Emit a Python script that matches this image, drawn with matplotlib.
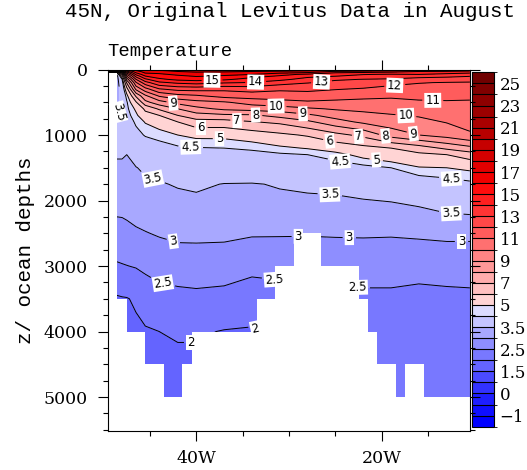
import numpy as np
import matplotlib
matplotlib.use("Agg")
import matplotlib.pyplot as plt
from matplotlib.colors import ListedColormap, BoundaryNorm

# Section along 45N (longitude in degrees east, depth in metres)
lons = [-49.5, -48.5, -48.0, -47.5, -46.5, -45.5, -44.0, -42.0, -40.0, -37.0,
        -34.0, -31.0, -28.0, -25.0, -22.0, -19.0, -16.0, -13.0, -10.5]
depths = [0, 10, 20, 30, 50, 75, 100, 150, 200, 300, 400, 500, 600, 700, 800,
          1000, 1200, 1300, 1500, 1750, 2000, 2500, 3000, 3500, 4000, 4500, 5000]

# temperature profile (deg C) at each longitude, surface to 5000 m
temp_by_lon = [
    [15.0, 13.0, 11.0, 8.5, 5.0, 3.6, 3.4, 3.3, 3.3, 3.3, 3.35, 3.35, 3.4, 3.45, 3.45, 3.6, 3.6, 3.55, 3.4, 3.3, 3.15, 2.85, 2.45, 1.95, 1.9, 1.85, 1.85],
    [15.2, 13.5, 11.5, 9.0, 5.5, 3.8, 3.4, 3.3, 3.3, 3.3, 3.35, 3.35, 3.4, 3.45, 3.45, 3.6, 3.6, 3.55, 3.4, 3.3, 3.15, 2.85, 2.45, 1.95, 1.9, 1.85, 1.85],
    [15.5, 14.2, 12.8, 11.0, 8.5, 6.8, 5.6, 4.5, 4.1, 3.8, 3.7, 3.7, 3.75, 3.8, 3.8, 3.8, 3.65, 3.55, 3.4, 3.28, 3.13, 2.88, 2.47, 1.97, 1.88, 1.82, 1.82],
    [15.8, 15.3, 14.5, 13.7, 12.3, 11.0, 10.0, 8.4, 7.1, 5.6, 4.75, 4.42, 4.35, 4.25, 4.15, 4.0, 3.65, 3.5, 3.4, 3.25, 3.12, 2.92, 2.49, 1.98, 1.85, 1.8, 1.8],
    [16.5, 16.2, 15.9, 15.6, 15.0, 14.2, 13.4, 12.0, 10.9, 9.2, 7.2, 5.9, 5.15, 4.85, 4.6, 4.3, 3.9, 3.75, 3.48, 3.35, 3.2, 2.95, 2.53, 2.05, 1.93, 1.85, 1.82],
    [17.0, 16.8, 16.6, 16.4, 16.1, 15.6, 15.0, 13.8, 12.6, 10.6, 8.85, 7.7, 6.2, 5.65, 5.05, 4.55, 4.1, 3.9, 3.6, 3.4, 3.3, 2.98, 2.6, 2.2, 1.96, 1.88, 1.85],
    [17.3, 17.1, 16.8, 16.5, 16.2, 15.8, 15.5, 14.8, 13.8, 11.9, 10.15, 8.6, 7.15, 6.0, 5.4, 4.7, 4.25, 4.1, 3.7, 3.45, 3.32, 3.04, 2.7, 2.3, 2.0, 1.9, 1.85],
    [17.5, 17.4, 17.2, 17.0, 16.6, 16.2, 15.8, 15.25, 14.2, 12.3, 10.7, 9.35, 8.0, 7.0, 6.0, 5.0, 4.4, 4.2, 3.9, 3.55, 3.35, 3.1, 2.75, 2.35, 2.05, 1.9, 1.85],
    [17.7, 17.6, 17.4, 17.2, 16.8, 16.4, 16.1, 15.4, 14.4, 12.35, 10.9, 9.7, 8.7, 7.6, 6.6, 5.2, 4.46, 4.3, 3.95, 3.6, 3.4, 3.12, 2.72, 2.4, 2.05, 1.9, 1.88],
    [17.8, 17.7, 17.5, 17.2, 16.6, 16.2, 15.9, 15.2, 14.1, 12.2, 11.4, 9.9, 9.2, 7.8, 6.6, 5.2, 4.5, 4.3, 4.0, 3.48, 3.38, 3.1, 2.73, 2.35, 1.98, 1.9, 1.88],
    [17.8, 17.7, 17.4, 17.0, 16.5, 16.0, 15.4, 14.6, 13.95, 12.4, 11.5, 10.4, 9.4, 7.85, 6.95, 5.5, 4.55, 4.4, 4.1, 3.46, 3.38, 3.05, 2.6, 2.3, 1.95, 1.9, 1.9],
    [17.6, 17.5, 17.2, 16.8, 16.2, 15.3, 14.9, 14.3, 13.4, 12.2, 11.4, 10.75, 9.5, 8.35, 7.2, 5.8, 4.85, 4.4, 4.0, 3.55, 3.38, 3.04, 2.65, 2.3, 2.1, 2.05, 2.0],
    [17.4, 17.3, 17.0, 16.5, 15.9, 14.8, 14.3, 13.6, 13.05, 12.3, 11.45, 10.9, 9.85, 8.8, 7.8, 6.1, 5.05, 4.5, 4.2, 3.62, 3.4, 3.03, 2.7, 2.4, 2.2, 2.15, 2.1],
    [17.2, 17.0, 16.5, 15.9, 15.0, 14.3, 14.05, 13.1, 12.8, 12.05, 11.4, 10.8, 10.1, 9.4, 8.6, 6.7, 5.4, 4.75, 4.2, 3.65, 3.42, 3.05, 2.65, 2.4, 2.25, 2.2, 2.15],
    [17.0, 16.8, 16.2, 15.7, 14.8, 14.05, 13.6, 12.98, 12.6, 11.9, 11.25, 10.75, 10.25, 9.7, 9.2, 7.25, 5.7, 5.25, 4.3, 3.72, 3.48, 3.05, 2.7, 2.4, 2.25, 2.2, 2.15],
    [16.9, 16.6, 16.0, 15.4, 14.6, 13.9, 13.5, 12.9, 12.35, 11.6, 11.15, 10.75, 10.35, 9.93, 9.55, 8.4, 6.0, 5.6, 4.5, 3.85, 3.52, 3.04, 2.7, 2.4, 2.28, 2.22, 2.18],
    [16.8, 16.4, 15.6, 15.0, 14.5, 14.0, 13.3, 12.7, 12.05, 11.6, 11.2, 10.9, 10.5, 10.08, 9.75, 9.0, 6.5, 5.8, 4.95, 4.0, 3.6, 3.07, 2.68, 2.35, 2.3, 2.25, 2.2],
    [16.7, 16.2, 15.4, 14.9, 14.35, 13.7, 13.2, 12.6, 11.95, 11.55, 11.15, 10.95, 10.6, 10.3, 10.05, 9.4, 7.2, 6.0, 5.0, 4.2, 3.75, 3.1, 2.7, 2.38, 2.3, 2.25, 2.2],
    [16.6, 16.0, 15.1, 14.7, 14.1, 13.55, 13.05, 12.5, 11.9, 11.5, 11.1, 10.95, 10.7, 10.45, 10.25, 9.9, 7.7, 6.5, 5.15, 4.35, 3.8, 3.1, 2.7, 2.4, 2.3, 2.25, 2.2],
]

# deepest valid depth of each 1-degree cell, from 49.5W eastwards
floor_west = np.arange(-49.5, -11.0, 1.0)
floor_depth = [50, 3500, 4000, 4000, 4500, 4500, 5000, 5000, 4500, 4000,
               4000, 4000, 4000, 4000, 4000, 4000, 3500, 3500, 3000, 3000,
               2500, 2500, 2500, 3000, 3000, 3000, 3000, 3500, 4000, 4500,
               4500, 5000, 4500, 4500, 5000, 5000, 5000, 5000, 5000]

# contour label positions (lon, depth) for each labelled level
label_pos = {
    15: [(-38.3, 180)],
    14: [(-33.6, 195)],
    13: [(-26.5, 165)],
    12: [(-18.6, 230)],
    11: [(-14.5, 450)],
    10: [(-31.4, 555), (-17.4, 692)],
    9: [(-42.5, 540), (-28.5, 677), (-16.6, 1015)],
    8: [(-33.6, 682), (-19.6, 1035)],
    7: [(-35.6, 780), (-22.5, 1050)],
    6: [(-39.5, 862), (-25.6, 1088)],
    5: [(-37.5, 1035), (-20.6, 1385)],
    4.5: [(-40.6, 1190), (-24.5, 1410), (-12.5, 1703)],
    3.5: [(-48.2, 660), (-44.7, 1692), (-25.6, 1897), (-12.5, 2154)],
    3: [(-42.5, 2667), (-29.0, 2590), (-23.5, 2574), (-11.4, 2590)],
    2.5: [(-43.6, 3256), (-31.6, 3220), (-22.6, 3307)],
    2: [(-40.6, 4180), (-33.6, 3872)],
}

fill_levels = [-2, -1, -0.5, 0, 1, 1.5, 2, 2.5, 3, 3.5, 4.5] + list(range(5, 27))
line_levels = [2, 2.5, 3, 3.5, 4.5] + list(range(5, 19))
cb_ticks = [-1, 0, 1.5, 2.5, 3.5, 5, 7, 9, 11, 13, 15, 17, 19, 21, 23, 25]

# blue -> white -> red -> dark red palette, one colour per band
blue = [0, 15, 30, 50, 75, 100, 120, 142, 168, 196, 220]
pink = [212, 192, 172, 152, 132, 112, 92, 72, 52, 32]
dark = [240, 226, 212, 198, 184, 170, 156, 142, 128, 112]
colors = ([(v / 255, v / 255, 1.0) for v in blue]
          + [(1.0, v / 255, v / 255) for v in pink]
          + [(1.0, 0.05, 0.05)]
          + [(v / 255, 0.0, 0.0) for v in dark])
cmap = ListedColormap(colors)
norm = BoundaryNorm(fill_levels, cmap.N)

plt.rcParams['font.family'] = 'DejaVu Sans'
mono = 'Liberation Mono'
serif = 'DejaVu Serif'

temp = np.array(temp_by_lon).T

fig = plt.figure(figsize=(5.27, 4.70), dpi=100)
ax = fig.add_axes([0.2053, 0.0821, 0.6863, 0.7700])
cax = fig.add_axes([0.8956, 0.0921, 0.0417, 0.754])
ax.set_zorder(2)
cax.set_zorder(1)

cf = ax.contourf(lons, depths, temp, levels=fill_levels, cmap=cmap, norm=norm)

# mask the sea floor
ax.bar(floor_west, 6000, bottom=floor_depth, width=1.0, align='edge',
       color='white', linewidth=0, zorder=2.2)

fmt = lambda v: f"{v:g}"
for lev in line_levels:
    cs = ax.contour(lons, depths, temp, levels=[lev], colors='k', linewidths=0.7)
    if lev in label_pos:
        texts = cs.clabel(manual=label_pos[lev], inline=True, fmt=fmt,
                          fontsize=8.5, inline_spacing=3)
        for t in texts:
            t.set_bbox(dict(boxstyle='square,pad=0.08', fc='white', ec='none'))
            t.set_zorder(4)

ax.set_xlim(-49.5, -10.5)
ax.set_ylim(5525, 0)
ax.set_xticks([-40, -20])
ax.set_xticklabels(['40W', '20W'])
ax.set_xticks([-45, -35, -30, -25, -15], minor=True)
ax.set_yticks(range(0, 5001, 1000))
ax.set_yticks(np.arange(250, 5501, 250), minor=True)
ax.tick_params(which='both', direction='out', top=True, right=True,
               width=0.8, labelsize=12.5, labelfontfamily=serif)
ax.tick_params(which='major', length=7.2)
ax.tick_params(which='minor', length=3.6)
ax.tick_params(axis='y', pad=7.5)
ax.tick_params(axis='x', pad=6)
for s in ax.spines.values():
    s.set_linewidth(0.8)

cb = fig.colorbar(cf, cax=cax, ticks=cb_ticks, drawedges=True)
cb.set_ticklabels([fmt(v).replace('-', '\u2212') for v in cb_ticks])
cb.outline.set_linewidth(0.8)
cb.dividers.set_linewidth(0.8)
cax.tick_params(length=0, pad=4, labelsize=12, labelfontfamily=serif)

fig.text(0.5503, 0.9643, '45N, Original Levitus Data in August',
         ha='center', va='baseline', fontsize=15, family=mono)
fig.text(0.2042, 0.8819, 'Temperature', ha='left', va='baseline',
         fontsize=13.6, family=mono)
fig.text(26 / 527, 0.4681, 'z/ ocean depths', rotation=90, ha='center',
         va='center', fontsize=15, family=mono)

fig.savefig('out.png', dpi=100)
